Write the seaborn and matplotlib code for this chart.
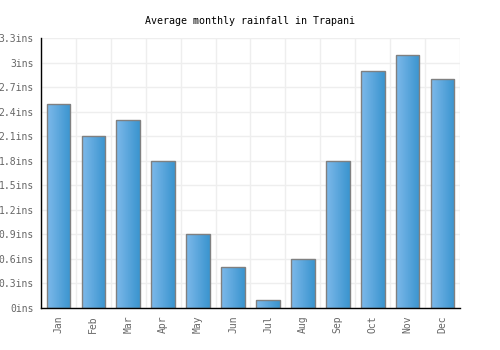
import numpy as np
import pandas as pd
import matplotlib.pyplot as plt
import seaborn as sns
from matplotlib.colors import LinearSegmentedColormap

plt.switch_backend('Agg')

months = ['Jan', 'Feb', 'Mar', 'Apr', 'May', 'Jun', 'Jul', 'Aug', 'Sep', 'Oct', 'Nov', 'Dec']
rainfall = [2.5, 2.1, 2.3, 1.8, 0.9, 0.5, 0.1, 0.6, 1.8, 2.9, 3.1, 2.8]
yticks = [0, 0.3, 0.6, 0.9, 1.2, 1.5, 1.8, 2.1, 2.4, 2.7, 3.0, 3.3]
ytick_labels = ['0ins', '0.3ins', '0.6ins', '0.9ins', '1.2ins', '1.5ins', '1.8ins',
                '2.1ins', '2.4ins', '2.7ins', '3ins', '3.3ins']

df = pd.DataFrame({'month': months, 'rain': rainfall})

sns.set_style('white')
plt.rcParams['font.family'] = ['DejaVu Sans Mono']

fig = plt.figure(figsize=(5, 3.5), dpi=100)
ax = fig.add_axes([0.082, 0.12, 0.838, 0.771])

sns.barplot(data=df, x='month', y='rain', ax=ax, width=0.68,
            color='#5aa9e0', edgecolor='#808080', linewidth=1, saturation=1)

# gradient fill clipped to each bar
cmap = LinearSegmentedColormap.from_list('bar', ['#7db9ea', '#3a94cf'])
grad = np.linspace(0, 1, 64).reshape(1, -1)
for p in ax.patches:
    x0, y0 = p.get_x(), p.get_y()
    w, h = p.get_width(), p.get_height()
    im = ax.imshow(grad, cmap=cmap, aspect='auto', extent=[x0, x0 + w, y0, y0 + h],
                   zorder=p.get_zorder() + 0.1, interpolation='bilinear')
    im.set_clip_path(p)
    p.set_facecolor('none')
    p.set_zorder(p.get_zorder() + 0.2)

ax.set_xlim(-0.5, 11.5)
ax.set_ylim(0, 3.3)
ax.set_yticks(yticks)
ax.set_yticklabels(ytick_labels)
ax.set_xticks(range(12))
ax.set_xticklabels(months, rotation=90)
ax.set_xticks(np.arange(-0.5, 12, 1), minor=True)
ax.grid(True, which='minor', axis='x', color='#eeeeee', linewidth=1)
ax.grid(True, which='major', axis='y', color='#eeeeee', linewidth=1)
ax.set_axisbelow(True)
ax.tick_params(axis='both', which='both', length=0, labelsize=7, colors='#666666', pad=5)
ax.tick_params(axis='x', which='minor', length=0)
ax.set_xlabel('')
ax.set_ylabel('')

for s in ['top', 'right']:
    ax.spines[s].set_visible(False)
for s in ['left', 'bottom']:
    ax.spines[s].set_color('black')
    ax.spines[s].set_linewidth(1)

fig.suptitle('Average monthly rainfall in Trapani', y=0.955, fontsize=7.2, color='black')

fig.savefig('out.png', dpi=100)
